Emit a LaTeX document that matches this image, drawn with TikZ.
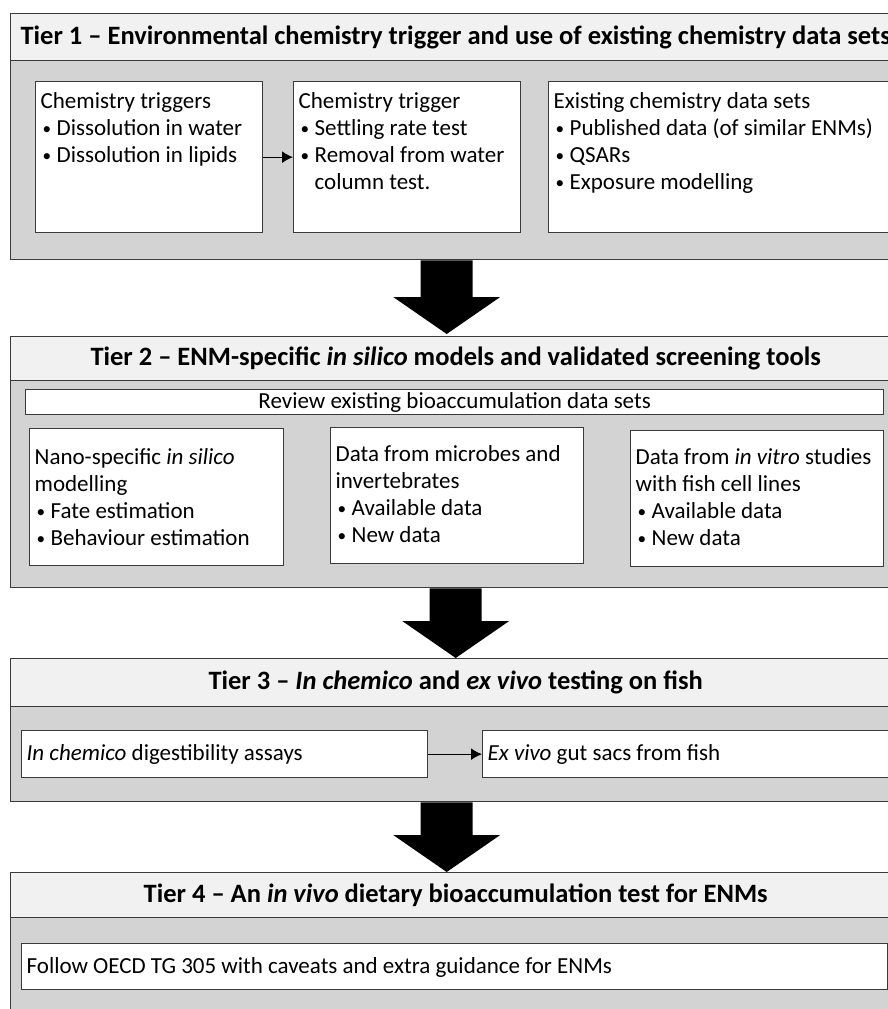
\documentclass[tikz,border=0pt]{standalone}
\usepackage{fontspec}
\usepackage{graphicx}
\setmainfont{Carlito}
\usetikzlibrary{arrows.meta,calc}
\definecolor{headfill}{HTML}{F1F1F1}
\definecolor{bodyfill}{HTML}{D3D3D3}
\definecolor{edge}{HTML}{3A3A3A}
\newcommand\cardtext[4]{\parbox[t][#2pt][t]{#1pt}{\raggedright\parindent=0pt\vspace*{#3pt}#4}}
\newcommand\bitem[1]{\par\noindent\hangindent=16pt\hangafter=1\hspace*{2pt}\makebox[14pt][l]{\raisebox{1.5pt}{\scalebox{0.75}{\textbullet}}}\strut #1}
\newcommand\bighead[2]{%
  \fill[black] ($(#1)+(-26,0)$) -- ($(#1)+(26,0)$) -- ($(#2)+(26,-37)$) -- ($(#2)+(53.5,-37)$)
    -- (#2) -- ($(#2)+(-53.5,-37)$) -- ($(#2)+(-26,-37)$) -- cycle;}
\tikzset{
  hdr/.style={draw=edge, fill=headfill, line width=1.4pt, minimum width=890pt, inner sep=0pt,
    anchor=north west, font=\fontsize{26.5}{30}\selectfont\bfseries},
  body/.style={draw=edge, fill=bodyfill, line width=1.4pt, minimum width=890pt, inner sep=0pt,
    anchor=north west},
  card/.style={draw=edge, fill=white, line width=1.3pt, inner xsep=5pt, inner ysep=0pt,
    anchor=north west, font=\fontsize{23}{27}\selectfont},
  link/.style={draw=black, line width=1.3pt, -{Latex[length=11pt,width=12pt]}},
}
\begin{document}
\begin{tikzpicture}[x=1pt,y=-1pt]
\useasboundingbox (0,0) rectangle (888,1009);
\clip (0,0) rectangle (888,1009);
\fill[white] (0,0) rectangle (888,1009);

% ---------------- Tier 1
\node[body, minimum height=199pt] (b1) at (10,60) {};
\node[hdr, minimum height=47pt] (h1) at (10,13)
  {Tier 1 -- Environmental chemistry trigger and use of existing chemistry data sets};
\node[card] (c11) at (35,81) {\cardtext{217}{151}{8}{\strut Chemistry triggers
  \bitem{Dissolution in water}
  \bitem{Dissolution in lipids}}};
\node[card] (c12) at (293,81) {\cardtext{217}{151}{8}{\strut Chemistry trigger
  \bitem{Settling rate test}
  \bitem{Removal from water column test.}}};
\node[card] (c13) at (548,81) {\cardtext{340}{151}{8}{\strut Existing chemistry data sets
  \bitem{Published data (of similar ENMs)}
  \bitem{QSARs}
  \bitem{Exposure modelling}}};
\draw[link] (c11.east) -- (c12.west);

% ---------------- Tier 2
\node[body, minimum height=207pt] (b2) at (10,380) {};
\node[hdr, minimum height=44pt] (h2) at (10,336)
  {Tier 2 -- ENM-specific \textit{in silico} models and validated screening tools};
\node[card] (r2) at (25,389) {\cardtext{848}{25}{0}{\centering\strut Review existing bioaccumulation data sets}};
\node[card] (c21) at (29,428) {\cardtext{244}{137}{17}{\strut Nano-specific \textit{in silico}\\ modelling
  \bitem{Fate estimation}
  \bitem{Behaviour estimation}}};
\node[card] (c22) at (330,427) {\cardtext{243}{136}{15}{\strut Data from microbes and\\ invertebrates
  \bitem{Available data}
  \bitem{New data}}};
\node[card] (c23) at (630,430) {\cardtext{243}{136}{15}{\strut Data from \textit{in vitro} studies\\ with fish cell lines
  \bitem{Available data}
  \bitem{New data}}};

% ---------------- Tier 3
\node[body, minimum height=95pt] (b3) at (10,706) {};
\node[hdr, minimum height=48pt] (h3) at (10,658)
  {Tier 3 -- \textit{In chemico} and \textit{ex vivo} testing on fish};
\node[card] (c31) at (21,730) {\cardtext{396}{47}{11}{\strut\textit{In chemico} digestibility assays}};
\node[card] (c32) at (482,730) {\cardtext{398}{47}{11}{\strut\textit{Ex vivo} gut sacs from fish}};
\draw[link] (c31.east) -- (c32.west);

% ---------------- Tier 4
\node[body, minimum height=110pt] (b4) at (10,917) {};
\node[hdr, minimum height=45pt] (h4) at (10,872)
  {Tier 4 -- An \textit{in vivo} dietary bioaccumulation test for ENMs};
\node[card] (c41) at (21,943) {\cardtext{856}{46}{11}{\strut Follow OECD TG 305 with caveats and extra guidance for ENMs}};

% ---------------- big arrows between tiers
\coordinate (a1s) at ([xshift=-9pt]b1.south);
\coordinate (a1e) at ([xshift=-9pt,yshift=2pt]h2.north);
\bighead{a1s}{a1e}
\coordinate (a2s) at (b2.south);
\coordinate (a2e) at (h3.north);
\bighead{a2s}{a2e}
\coordinate (a3s) at ([xshift=-9pt]b3.south);
\coordinate (a3e) at ([xshift=-9pt]h4.north);
\bighead{a3s}{a3e}
\end{tikzpicture}
\end{document}
